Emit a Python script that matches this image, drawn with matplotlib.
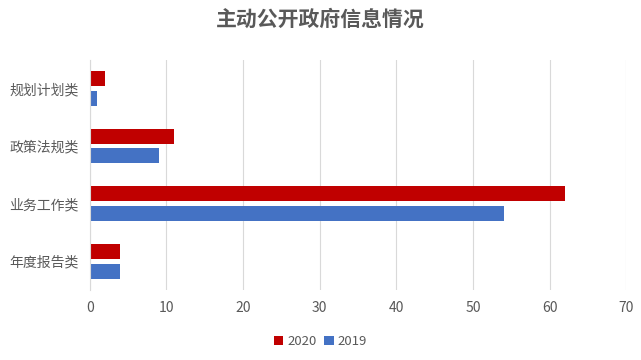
import matplotlib.pyplot as plt
import numpy as np

plt.rcParams['font.family'] = ['Noto Sans CJK SC', 'DejaVu Sans']

categories = ['规划计划类', '政策法规类', '业务工作类', '年度报告类']
values_2020 = [2, 11, 62, 4]
values_2019 = [1, 9, 54, 4]

fig = plt.figure(figsize=(6.41, 3.6), dpi=100)
ax = fig.add_axes([0.140, 0.194, 0.837, 0.64])

y = np.arange(len(categories))
h = 0.26
ax.barh(y - h / 2 - 0.04, values_2020, height=h, color='#C00000', label='2020')
ax.barh(y + h / 2 + 0.04, values_2019, height=h, color='#4472C4', label='2019')

ax.set_ylim(3.5, -0.5)
ax.set_xlim(0, 70)
ax.set_xticks(range(0, 71, 10))
ax.set_yticks(y)
ax.set_yticklabels(categories)
ax.tick_params(axis='both', length=0, colors='#595959', labelsize=10)
ax.tick_params(axis='y', pad=8)
ax.tick_params(axis='x', pad=8)
ax.grid(axis='x', color='#D9D9D9', linewidth=0.8)
ax.set_axisbelow(True)
for s in ['top', 'right', 'bottom']:
    ax.spines[s].set_visible(False)
ax.spines['left'].set_color('#D9D9D9')

fig.suptitle('主动公开政府信息情况', x=0.5, y=0.975, fontsize=15, color='#595959',
             fontweight='bold')
fig.legend(loc='lower center', bbox_to_anchor=(0.5, 0.0), ncol=2, frameon=False,
           fontsize=9.5, handlelength=0.7, handleheight=0.7, columnspacing=0.6,
           handletextpad=0.3, labelcolor='#595959')

fig.savefig('out.png')
